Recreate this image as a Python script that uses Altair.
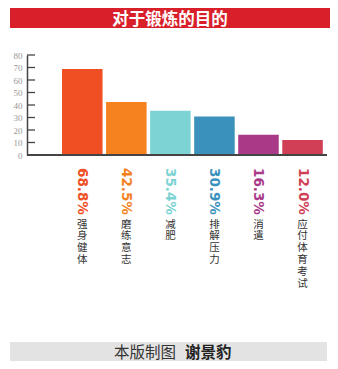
import altair as alt
import pandas as pd

# ---- data ----
categories = ["强身健体", "磨练意志", "减肥", "排解压力", "消遣", "应付体育考试"]
values = [68.8, 42.5, 35.4, 30.9, 16.3, 12.0]
colors = ["#F04E23", "#F5821F", "#7DD3D4", "#3A92BC", "#A83A88", "#D03F55"]
y_ticks = [0, 10, 20, 30, 40, 50, 60, 70, 80]
title_text = "对于锻炼的目的"
footer_left = "本版制图"
footer_right = "谢景豹"

df = pd.DataFrame({
    "cat": categories,
    "value": values,
    "pct": [f"{v:.1f}%" for v in values],
})
ticks_df = pd.DataFrame({"t": y_ticks})

W, H = 300, 100

x_enc = alt.X("cat:N", sort=categories, axis=None,
              scale=alt.Scale(domain=categories, paddingInner=0.08,
                              paddingOuter=0.445, align=0.893))
y_scale = alt.Scale(domain=[0, 80], nice=False, zero=True)
color_enc = alt.Color("cat:N", scale=alt.Scale(domain=categories, range=colors), legend=None)

y_axis = alt.Axis(values=y_ticks, tickCount=9, ticks=False, grid=False, title=None,
                  domainColor="#444444", domainWidth=1.5,
                  labelFont="Liberation Serif", labelFontSize=9,
                  labelColor="#999999", labelPadding=5,
                  labelOverlap=False)

bars = alt.Chart(df).mark_bar(clip=False).encode(
    x=x_enc,
    y=alt.Y("value:Q", scale=y_scale, axis=y_axis),
    color=color_enc,
)

tick_rules = alt.Chart(ticks_df).mark_rule(color="#444444", strokeWidth=1.3).encode(
    y=alt.Y("t:Q", scale=y_scale, axis=y_axis),
    x=alt.value(0), x2=alt.value(8),
)

baseline = alt.Chart(df).mark_rule(color="#444444", strokeWidth=1.5).encode(
    y=alt.datum(0, axis=y_axis), x=alt.value(0), x2=alt.value(W),
)

pct_text = alt.Chart(df).mark_text(
    angle=90, align="left", baseline="middle", font="DejaVu Sans",
    fontWeight="bold", fontSize=13.5,
).encode(x=x_enc, y=alt.value(H + 13), text="pct:N", color=color_enc)

cat_text = alt.Chart(df).transform_calculate(
    stack="split(datum.cat, '')"
).mark_text(
    align="center", baseline="top", font="Noto Sans CJK SC", fontSize=10.5,
    lineHeight=11.8, color="#333333",
).encode(x=x_enc, y=alt.value(H + 64.5), text="stack:N")

title_bg = alt.Chart(df).mark_rect(color="#D9202A").encode(
    x=alt.value(-17), x2=alt.value(303), y=alt.value(-47), y2=alt.value(-27))
title_tx = alt.Chart(pd.DataFrame({"t": [title_text]})).mark_text(
    color="white", font="Noto Sans CJK SC", fontWeight="bold", fontSize=16.5,
    align="center", baseline="middle",
).encode(x=alt.value(143), y=alt.value(-35.5), text="t:N")

foot_bg = alt.Chart(df).mark_rect(color="#E3E3E3").encode(
    x=alt.value(-17), x2=alt.value(300), y=alt.value(287), y2=alt.value(306))
foot_l = alt.Chart(pd.DataFrame({"t": [footer_left]})).mark_text(
    color="#333333", font="Noto Sans CJK SC", fontSize=15.5,
    align="right", baseline="middle",
).encode(x=alt.value(149), y=alt.value(297.5), text="t:N")
foot_r = alt.Chart(pd.DataFrame({"t": [footer_right]})).mark_text(
    color="#222222", font="Noto Sans CJK SC", fontWeight="bold", fontSize=15.5,
    align="left", baseline="middle",
).encode(x=alt.value(158), y=alt.value(297.5), text="t:N")

chart = alt.layer(
    title_bg, title_tx, foot_bg, foot_l, foot_r,
    bars, baseline, tick_rules, pct_text, cat_text,
).properties(
    width=W, height=H,
    autosize=alt.AutoSizeParams(type="none"),
    padding={"left": 27, "top": 55, "right": 11, "bottom": 214},
    background="white",
).configure_view(stroke=None)

chart.save("out.html", embed_options={"renderer": "svg", "actions": False})
